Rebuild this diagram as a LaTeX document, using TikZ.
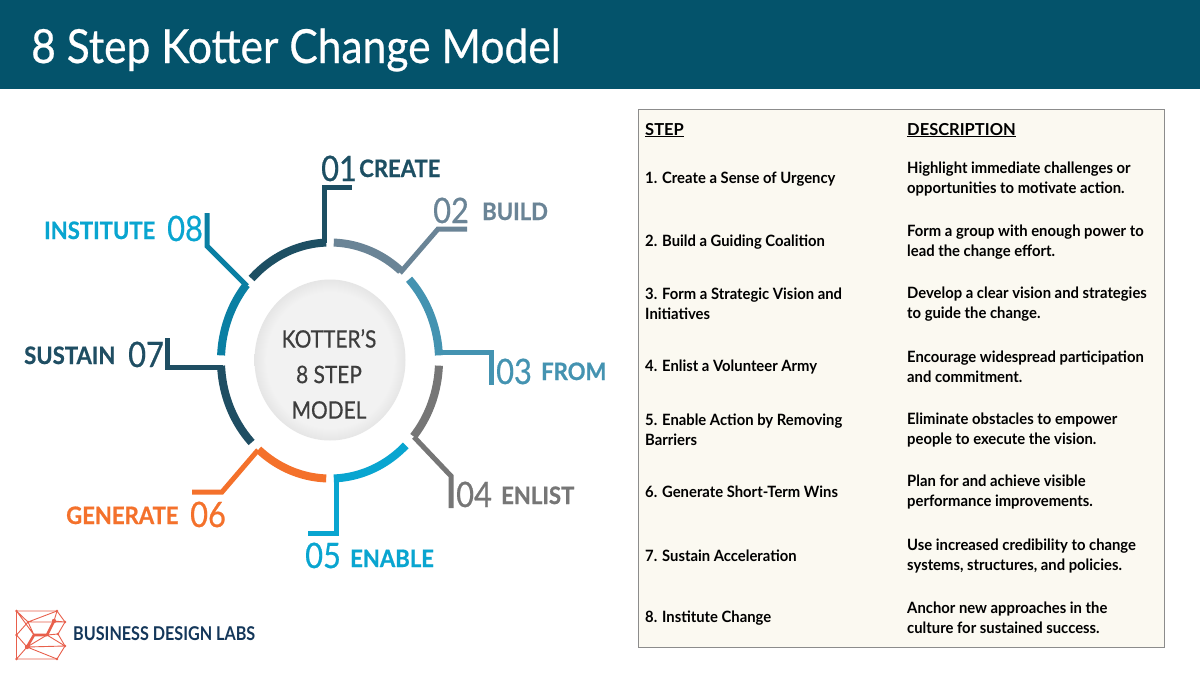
\documentclass[tikz,border=0pt]{standalone}
\usepackage{fontspec}
\setmainfont{Lato}
\newfontfamily\titlef[FakeStretch=0.905,FakeBold=0.5]{Lato}
\newfontfamily\numf[FakeStretch=0.88,FakeBold=0.6]{Lato}
\newfontfamily\labf[FakeStretch=0.92,BoldFeatures={FakeBold=0.7}]{Lato}
\newfontfamily\hubf[FakeStretch=0.87,FakeBold=0.6]{Lato}
\newfontfamily\brandf[FakeStretch=0.85]{Lato}
\newfontfamily\cellf[FakeStretch=0.95]{Lato}
\definecolor{hdr}{HTML}{04536B}
\definecolor{cA}{HTML}{1D4F63}
\definecolor{cB}{HTML}{6A8496}
\definecolor{cC}{HTML}{4493B1}
\definecolor{cD}{HTML}{767676}
\definecolor{cE}{HTML}{09A5D0}
\definecolor{cF}{HTML}{F4712B}
\definecolor{cG}{HTML}{1F4E63}
\definecolor{cH}{HTML}{0A7FA3}
\definecolor{cHt}{HTML}{09A5D0}
\definecolor{logo}{HTML}{E8604C}
\definecolor{logot}{HTML}{14375A}
\definecolor{panel}{HTML}{FBF9F1}
\definecolor{ctr}{HTML}{3D3D3D}
\pgfdeclareradialshading{hub}{\pgfpoint{0bp}{0bp}}{color(0bp)=(white!95!black);color(21bp)=(white!95!black);color(25bp)=(white!90!black);color(50bp)=(white!90!black)}
\newcommand{\seg}[3]{\draw[#1,line width=8pt,line cap=butt] plot[smooth,domain=#2:#3,samples=30] ({330+109*cos(\x)},{360.5+118*sin(\x)});}
\tikzset{
  x=1pt,y=-1pt,
  leader/.style={line width=5pt,line join=miter,line cap=butt},
  num/.style={font=\numf\fontsize{35}{35}\selectfont,inner sep=0pt,anchor=base west},
  lab/.style={font=\labf\fontsize{24}{24}\selectfont\bfseries,inner sep=0pt,anchor=base west},
  cell/.style={font=\cellf\fontsize{15.6}{19.6}\selectfont\bfseries,inner sep=0pt,anchor=west,align=left,text=black},
  head/.style={font=\fontsize{16.5}{20}\selectfont\bfseries,inner sep=0pt,anchor=base west,text=black},
  net/.style={draw=logo,line width=.9pt},
  netb/.style={draw=logo,line width=2.6pt},
}
\begin{document}
\begin{tikzpicture}
\useasboundingbox (0,0) rectangle (1200,675);
\fill[white] (0,0) rectangle (1200,675);
\fill[hdr] (0,0) rectangle (1200,89);
\node[font=\titlef\fontsize{47}{47}\selectfont,text=white,inner sep=0pt,anchor=base west] (title) at (31,63) {8 Step Kotter Change Model};

% hub
\shade[shading=hub] (330,360) ellipse [x radius=75.5,y radius=80.5];
\node[font=\hubf\fontsize{24}{35.5}\selectfont,text=ctr,align=center,inner sep=0pt] (hubt) at (329,374) {KOTTER’S\\8 STEP\\MODEL};

% ring segments
\seg{cA}{-136}{-92}
\seg{cB}{-88}{-49.5}
\seg{cC}{-43.5}{-2.5}
\seg{cD}{2.5}{40}
\seg{cE}{46}{88}
\seg{cF}{92}{131}
\seg{cG}{136}{177.5}
\seg{cH}{182.5}{220}

% leaders
\coordinate (l1a) at (324,243); \coordinate (l1b) at (324,187); \coordinate (l1c) at (352,187);
\coordinate (l2a) at (400,273); \coordinate (l2b) at (438,229); \coordinate (l2c) at (467,229);
\coordinate (l3a) at (437,352); \coordinate (l3b) at (491,352); \coordinate (l3c) at (491,385);
\coordinate (l4a) at (414,437); \coordinate (l4b) at (451,476); \coordinate (l4c) at (451,508);
\coordinate (l5a) at (336,475); \coordinate (l5b) at (336,533); \coordinate (l5c) at (308,533);
\coordinate (l6a) at (258,450); \coordinate (l6b) at (222,492); \coordinate (l6c) at (192,492);
\coordinate (l7a) at (223,367); \coordinate (l7b) at (167,367); \coordinate (l7c) at (167,338);
\coordinate (l8a) at (247,286); \coordinate (l8b) at (207,246); \coordinate (l8c) at (207,213);
\draw[leader,cA] (l1a) -- (l1b) -- (l1c);
\draw[leader,cB] (l2a) -- (l2b) -- (l2c);
\draw[leader,cC] (l3a) -- (l3b) -- (l3c);
\draw[leader,cD] (l4a) -- (l4b) -- (l4c);
\draw[leader,cE] (l5a) -- (l5b) -- (l5c);
\draw[leader,cF] (l6a) -- (l6b) -- (l6c);
\draw[leader,cG] (l7a) -- (l7b) -- (l7c);
\draw[leader,cH] (l8a) -- (l8b) -- (l8c);

% labels
\node[num,text=cA] (n1) at (321,181) {01};
\node[lab,text=cA] (t1) at (359,177) {CREATE};
\node[num,text=cB] (n2) at (433,223) {02};
\node[lab,text=cB] (t2) at (482,220) {BUILD};
\node[num,text=cC] (n3) at (496,384) {03};
\node[lab,text=cC] (t3) at (541,380) {FROM};
\node[num,text=cD] (n4) at (456,507) {04};
\node[lab,text=cD] (t4) at (501,504) {ENLIST};
\node[num,text=cE] (n5) at (305,568) {05};
\node[lab,text=cE] (t5) at (350,567) {ENABLE};
\node[num,text=cF] (n6) at (190,527) {06};
\node[lab,text=cF] (t6) at (66,524) {GENERATE};
\node[num,text=cG] (n7) at (128,367) {07};
\node[lab,text=cG] (t7) at (24,364) {SUSTAIN};
\node[num,text=cHt] (n8) at (167,241) {08};
\node[lab,text=cHt] (t8) at (44,239) {INSTITUTE};

% logo
\coordinate (A) at (16.5,611); \coordinate (B) at (57,611); \coordinate (C) at (65,622);
\coordinate (D) at (58,634); \coordinate (E) at (65,646); \coordinate (F) at (57,659);
\coordinate (G) at (16.5,659); \coordinate (H) at (16.5,635); \coordinate (I) at (28,622);
\coordinate (J) at (54,621); \coordinate (K) at (34,635); \coordinate (L) at (47,635);
\coordinate (M) at (27,647);
\draw[net] (A)--(B)--(C)--(D)--(E)--(F)--(G)--(H)--cycle;
\draw[net] (A)--(I)--(H)--(M)--(G) (I)--(C) (J)--(B) (I)--(B) (I)--(K) (J)--(C) (L)--(D) (M)--(E) (M)--(F) (L)--(E) (M)--(L) (A)--(K);
\draw[netb,line join=round] (M)--(K)--(L)--(J);
\foreach \p in {A,B,C,D,E,F,G,H,I,K,L}{\fill[logo] (\p) circle (1.4);}
\fill[logo] (M) circle (2.2) (J) circle (2.2);
\node[font=\brandf\fontsize{19}{19}\selectfont\bfseries,text=logot,inner sep=0pt,anchor=base west] (brand) at (73,640) {BUSINESS DESIGN LABS};

% table
\node[draw=black!45,fill=panel,line width=1.3pt,minimum width=526pt,minimum height=538pt,inner sep=0pt,anchor=north west] (tbl) at (638,109) {};
\node[head] (hs) at (645,135) {\underline{STEP}};
\node[head] (hd) at (907,135) {\underline{DESCRIPTION}};
\node[cell] (s1) at (645,179) {1. Create a Sense of Urgency};
\node[cell] (s2) at (645,242) {2. Build a Guiding Coalition};
\node[cell] (s3) at (645,304) {3. Form a Strategic Vision and\\Initiatives};
\node[cell] (s4) at (645,367) {4. Enlist a Volunteer Army};
\node[cell] (s5) at (645,430) {5. Enable Action by Removing\\Barriers};
\node[cell] (s6) at (645,492) {6. Generate Short-Term Wins};
\node[cell] (s7) at (645,556) {7. Sustain Acceleration};
\node[cell] (s8) at (645,618) {8. Institute Change};
\node[cell] (d1) at (907,179) {Highlight immediate challenges or\\opportunities to motivate action.};
\node[cell] (d2) at (907,242) {Form a group with enough power to\\lead the change effort.};
\node[cell] (d3) at (907,304) {Develop a clear vision and strategies\\to guide the change.};
\node[cell] (d4) at (907,367) {Encourage widespread participation\\and commitment.};
\node[cell] (d5) at (907,430) {Eliminate obstacles to empower\\people to execute the vision.};
\node[cell] (d6) at (907,492) {Plan for and achieve visible\\performance improvements.};
\node[cell] (d7) at (907,556) {Use increased credibility to change\\systems, structures, and policies.};
\node[cell] (d8) at (907,618) {Anchor new approaches in the\\culture for sustained success.};
\end{tikzpicture}
\end{document}
